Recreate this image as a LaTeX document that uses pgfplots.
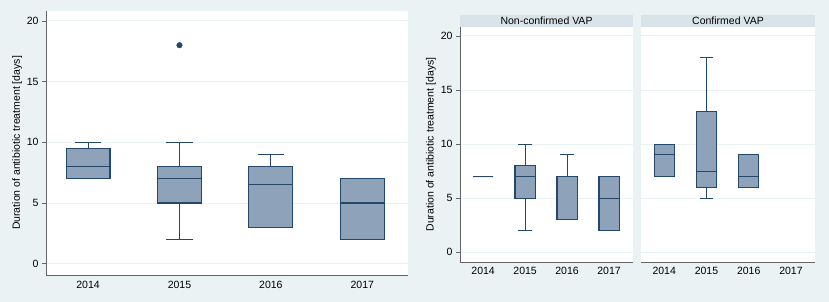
\documentclass[border=0pt]{standalone}
\usepackage{pgfplots}
\pgfplotsset{compat=1.18}
\usepgfplotslibrary{statistics}
\usepackage{fontspec}
\setmainfont{Liberation Sans}
\definecolor{bgc}{RGB}{234,242,243}
\definecolor{stripc}{RGB}{216,228,234}
\definecolor{gridc}{RGB}{234,242,243}
\definecolor{boxc}{RGB}{142,163,185}
\definecolor{edgec}{RGB}{36,72,108}
\definecolor{axc}{RGB}{100,100,100}
\pgfplotsset{
  panel/.style={
    scale only axis, anchor=south west,
    axis background/.style={fill=white},
    axis x line*=bottom, axis y line*=left,
    axis line style={draw=axc, line width=0.9pt},
    ymajorgrids, grid style={draw=gridc, line width=1pt},
    xtick={0,1,2,3}, xticklabels={2014,2015,2016,2017},
    ytick={0,5,10,15,20},
    major x tick style={draw=none},
    major y tick style={draw=axc, line width=0.8pt},
    tick align=outside, major tick length=4pt,
    /pgf/number format/assume math mode=true,
    tick label style={font=\fontsize{10.5}{12}\selectfont, text=black},
    label style={font=\fontsize{10.5}{12}\selectfont},
    clip=false,
  },
  bx/.style={draw=edgec, line width=1.1pt, solid,
    boxplot/draw direction=y,
    boxplot/box extend=0.48,
    boxplot/every box/.style={draw=edgec, fill=boxc, line width=1.1pt},
    boxplot/every median/.style={draw=edgec, line width=1.1pt},
    boxplot/every whisker/.style={draw=edgec, line width=1.1pt}},
}
\begin{document}
\begin{tikzpicture}[x=1pt,y=1pt]
\fill[bgc] (0,0) rectangle (829,302);
\useasboundingbox (0,0) rectangle (829,302);
% left panel
\begin{axis}[panel, at={(46pt,27pt)}, width=362pt, height=264pt,
  xmin=-0.46, xmax=3.50, ymin=-0.93, ymax=20.82,
  ylabel={Duration of antibiotic treatment [days]},
  ylabel style={at={(axis description cs:-0.080,0.5)}, anchor=center},
  xticklabel style={yshift=1pt}]
\addplot[bx, boxplot/whisker extend=0.29, boxplot prepared={lower whisker=7, lower quartile=7, median=8, upper quartile=9.5, upper whisker=10, draw position=0}] coordinates {};
\addplot[bx, boxplot/whisker extend=0.29, boxplot prepared={lower whisker=2, lower quartile=5, median=7, upper quartile=8, upper whisker=10, draw position=1}] coordinates {};
\addplot[bx, boxplot/whisker extend=0.29, boxplot prepared={lower whisker=3, lower quartile=3, median=6.5, upper quartile=8, upper whisker=9, draw position=2}] coordinates {};
\addplot[bx, boxplot/whisker extend=0.29, boxplot prepared={lower whisker=2, lower quartile=2, median=5, upper quartile=7, upper whisker=7, draw position=3}] coordinates {};
\addplot[only marks, mark=*, mark size=2.8pt, draw=edgec, fill=edgec] coordinates {(1,18)};
\end{axis}
% right panel 1
\begin{axis}[panel, at={(460pt,40pt)}, width=173pt, height=235pt,
  xmin=-0.55, xmax=3.57, ymin=-0.9, ymax=20.83,
  ylabel={Duration of antibiotic treatment [days]},
  ylabel style={at={(axis description cs:-0.168,0.5)}, anchor=center},
  xticklabel style={yshift=2pt},
  title={Non-confirmed VAP},
  title style={at={(axis description cs:0.5,1)}, anchor=south, yshift=-6pt, fill=stripc,
    minimum width=173pt, minimum height=11.5pt, inner sep=0pt,
    font=\fontsize{10.5}{12}\selectfont}]
\addplot[bx, boxplot/whisker extend=0.33, boxplot prepared={lower whisker=7, lower quartile=7, median=7, upper quartile=7, upper whisker=7, draw position=0}] coordinates {};
\addplot[bx, boxplot/whisker extend=0.33, boxplot prepared={lower whisker=2, lower quartile=5, median=7, upper quartile=8, upper whisker=10, draw position=1}] coordinates {};
\addplot[bx, boxplot/whisker extend=0.33, boxplot prepared={lower whisker=3, lower quartile=3, median=3, upper quartile=7, upper whisker=9, draw position=2}] coordinates {};
\addplot[bx, boxplot/whisker extend=0.33, boxplot prepared={lower whisker=2, lower quartile=2, median=5, upper quartile=7, upper whisker=7, draw position=3}] coordinates {};
\end{axis}
% right panel 2
\begin{axis}[panel, at={(641pt,40pt)}, width=174pt, height=235pt,
  xmin=-0.55, xmax=3.57, ymin=-0.9, ymax=20.83,
  y axis line style={draw=none}, major y tick style={draw=none}, yticklabels={},
  xticklabel style={yshift=2pt},
  title={Confirmed VAP},
  title style={at={(axis description cs:0.5,1)}, anchor=south, yshift=-6pt, fill=stripc,
    minimum width=174pt, minimum height=11.5pt, inner sep=0pt,
    font=\fontsize{10.5}{12}\selectfont}]
\addplot[bx, boxplot/whisker extend=0.33, boxplot prepared={lower whisker=7, lower quartile=7, median=9, upper quartile=10, upper whisker=10, draw position=0}] coordinates {};
\addplot[bx, boxplot/whisker extend=0.33, boxplot prepared={lower whisker=5, lower quartile=6, median=7.5, upper quartile=13, upper whisker=18, draw position=1}] coordinates {};
\addplot[bx, boxplot/whisker extend=0.33, boxplot prepared={lower whisker=6, lower quartile=6, median=7, upper quartile=9, upper whisker=9, draw position=2}] coordinates {};
\end{axis}
\end{tikzpicture}
\end{document}
